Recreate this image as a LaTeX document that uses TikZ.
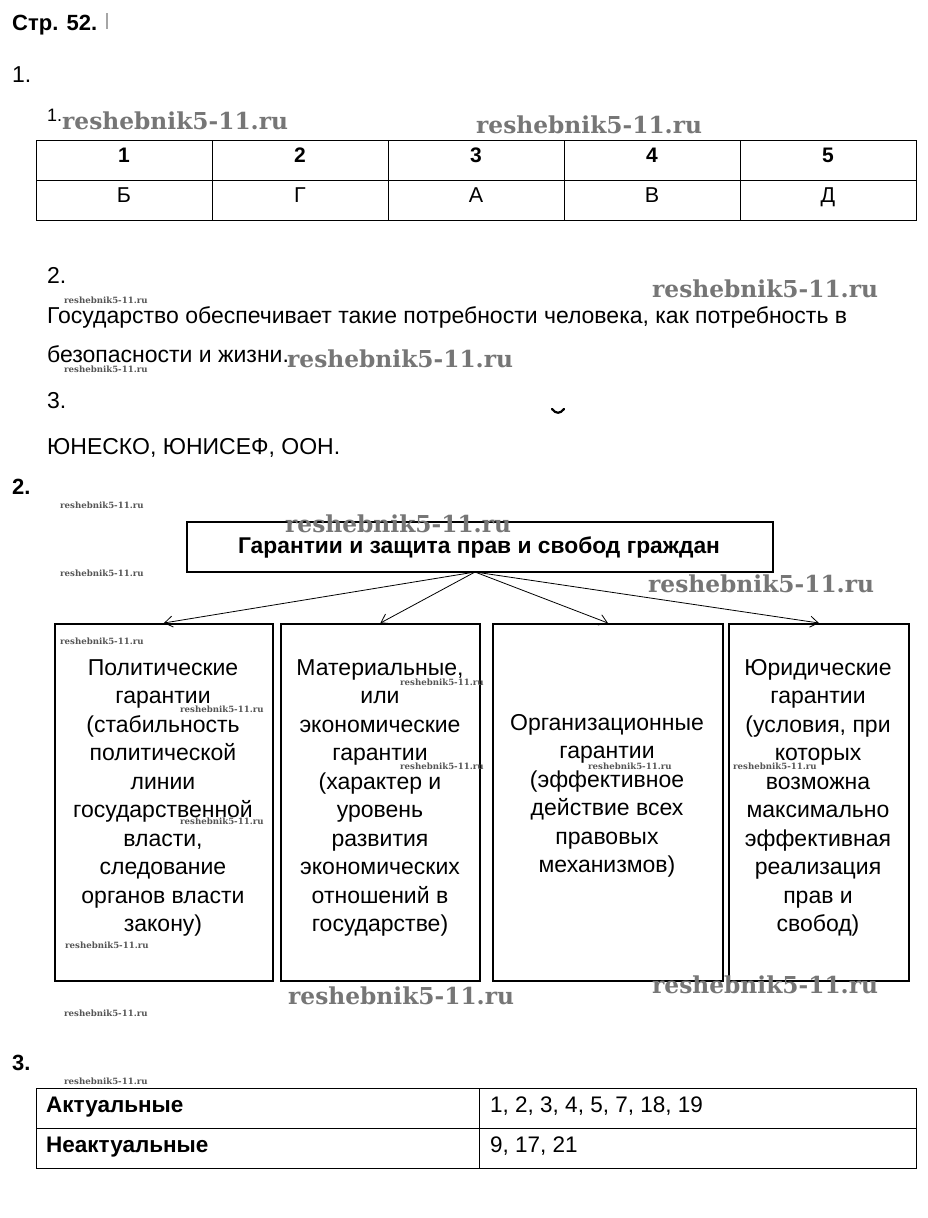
\documentclass[tikz,border=0pt]{standalone}
\usepackage{fontspec}
\setmainfont{Liberation Sans}
\newfontfamily\wmfont{DejaVu Serif}
\usetikzlibrary{arrows.meta}
\definecolor{wmgray}{RGB}{118,118,118}
\definecolor{wmsmall}{RGB}{85,85,85}
\begin{document}
\begin{tikzpicture}[x=1pt,y=-1pt,
  txt/.style={anchor=base west, inner sep=0pt, font=\fontsize{23}{26}\selectfont},
  hdr/.style={anchor=base west, inner sep=0pt, font=\fontsize{22}{25}\selectfont\bfseries},
  cellb/.style={anchor=base, inner sep=0pt, font=\fontsize{21}{25}\selectfont\bfseries},
  cellr/.style={anchor=base, inner sep=0pt, font=\fontsize{21.5}{25}\selectfont},
  tcell/.style={anchor=base west, inner sep=0pt, font=\fontsize{22.5}{25}\selectfont},
  tcellb/.style={anchor=base west, inner sep=0pt, font=\fontsize{22.5}{25}\selectfont\bfseries},
  wm/.style={anchor=base west, inner sep=0pt, text=wmgray, font=\wmfont\bfseries\fontsize{23.3}{23}\selectfont},
  wms/.style={anchor=base west, inner sep=0pt, text=wmsmall, font=\wmfont\bfseries\fontsize{8.6}{9}\selectfont},
  gbox/.style={draw, line width=1.8pt, inner sep=0pt, anchor=north west},
  btxt/.style={anchor=base, inner sep=0pt, font=\fontsize{23}{28.5}\selectfont},
  arr/.style={-{Straight Barb[length=8pt,width=11pt,line width=0.8pt]}, line width=0.8pt},
  tline/.style={line width=0.9pt}
]
\useasboundingbox[fill=white] (0,0) rectangle (927,1218);

% header
\node[hdr] (title) at (12,30) {Стр. 52.};
\draw[line width=1.6pt, black!35] (107,13) -- (107,29);
\node[txt] (n1) at (12,82) {1.};
\node[anchor=base west, inner sep=0pt, font=\fontsize{18}{20}\selectfont] (n11) at (47,121) {1.};

% table 1
\draw[tline] (36,140) rectangle (916,220);
\draw[tline] (36,180) -- (916,180);
\foreach \x in {212,388,564,740} \draw[tline] (\x,140) -- (\x,220);
\node[cellb] (h1) at (124,162) {1};
\node[cellb] (h2) at (300,162) {2};
\node[cellb] (h3) at (476,162) {3};
\node[cellb] (h4) at (652,162) {4};
\node[cellb] (h5) at (828,162) {5};
\node[cellr] (a1) at (124,202) {Б};
\node[cellr] (a2) at (300,202) {Г};
\node[cellr] (a3) at (476,202) {А};
\node[cellr] (a4) at (652,202) {В};
\node[cellr] (a5) at (828,202) {Д};

% part 1 text
\node[txt] (n2) at (47,283) {2.};
\node[txt] (p1) at (47,323) {Государство обеспечивает такие потребности человека, как потребность в};
\node[txt] (p2) at (47,362) {безопасности и жизни.};
\node[txt] (n3) at (47,408) {3.};
\draw[line width=2.2pt, line cap=round] (552,409) .. controls (556,414) and (560,414) .. (564,409);
\node[txt] (p3) at (47,454) {ЮНЕСКО, ЮНИСЕФ, ООН.};

% part 2
\node[hdr] (s2) at (12,494) {2.};
\node[gbox, minimum width=586pt, minimum height=50pt] (top) at (186,521) {};
\node[anchor=base, inner sep=0pt, font=\fontsize{22.8}{26}\selectfont\bfseries] (toptxt) at (479,553) {Гарантии и защита прав и свобод граждан};
\coordinate (hub) at (475,572);

\node[gbox, minimum width=218pt, minimum height=357pt] (g1) at (54,623) {};
\node[gbox, minimum width=199pt, minimum height=357pt] (g2) at (280,623) {};
\node[gbox, minimum width=230pt, minimum height=357pt] (g3) at (492,623) {};
\node[gbox, minimum width=180pt, minimum height=357pt] (g4) at (728,623) {};

\draw[arr] (hub) -- (g1.north);
\draw[arr] (hub) -- (g2.north);
\draw[arr] (hub) -- (g3.north);
\draw[arr] (hub) -- (g4.north);

\node[btxt] (t1) at (163,675) {\parbox[t]{216pt}{\centering Политические\\гарантии\\(стабильность\\политической\\линии\\государственной\\власти,\\следование\\органов власти\\закону)}};
\node[btxt] (t2) at (380,675) {\parbox[t]{198pt}{\centering Материальные,\\или\\экономические\\гарантии\\(характер и\\уровень\\развития\\экономических\\отношений в\\государстве)}};
\node[btxt] (t3) at (607,730) {\parbox[t]{228pt}{\centering Организационные\\гарантии\\(эффективное\\действие всех\\правовых\\механизмов)}};
\node[btxt] (t4) at (818,675) {\parbox[t]{178pt}{\centering Юридические\\гарантии\\(условия, при\\которых\\возможна\\максимально\\эффективная\\реализация\\прав и\\свобод)}};

% part 3
\node[hdr] (s3) at (12,1070) {3.};
\draw[tline] (36,1088) rectangle (916,1168);
\draw[tline] (36,1128) -- (916,1128);
\draw[tline] (479,1088) -- (479,1168);
\node[tcellb] (r1) at (46,1112) {Актуальные};
\node[tcellb] (r2) at (46,1152) {Неактуальные};
\node[tcell] (v1) at (490,1112) {1, 2, 3, 4, 5, 7, 18, 19};
\node[tcell] (v2) at (490,1152) {9, 17, 21};

% watermarks
\node[wm] (w1) at (62,129) {reshebnik5-11.ru};
\node[wm] (w2) at (476,133) {reshebnik5-11.ru};
\node[wm] (w3) at (652,297) {reshebnik5-11.ru};
\node[wm] (w4) at (287,367) {reshebnik5-11.ru};
\node[wm] (w5) at (285,532) {reshebnik5-11.ru};
\node[wm] (w6) at (648,592) {reshebnik5-11.ru};
\node[wm] (w7) at (288,1004) {reshebnik5-11.ru};
\node[wm] (w8) at (652,993) {reshebnik5-11.ru};

\foreach \i/\x/\y in {1/64/303,2/64/372,3/60/508,4/60/576,5/60/644,6/180/712,7/400/685,8/400/769,9/180/824,10/588/769,11/733/769,12/65/948,13/64/1016,14/64/1084}
  \node[wms] (ws\i) at (\x,\y) {reshebnik5-11.ru};
\end{tikzpicture}
\end{document}
